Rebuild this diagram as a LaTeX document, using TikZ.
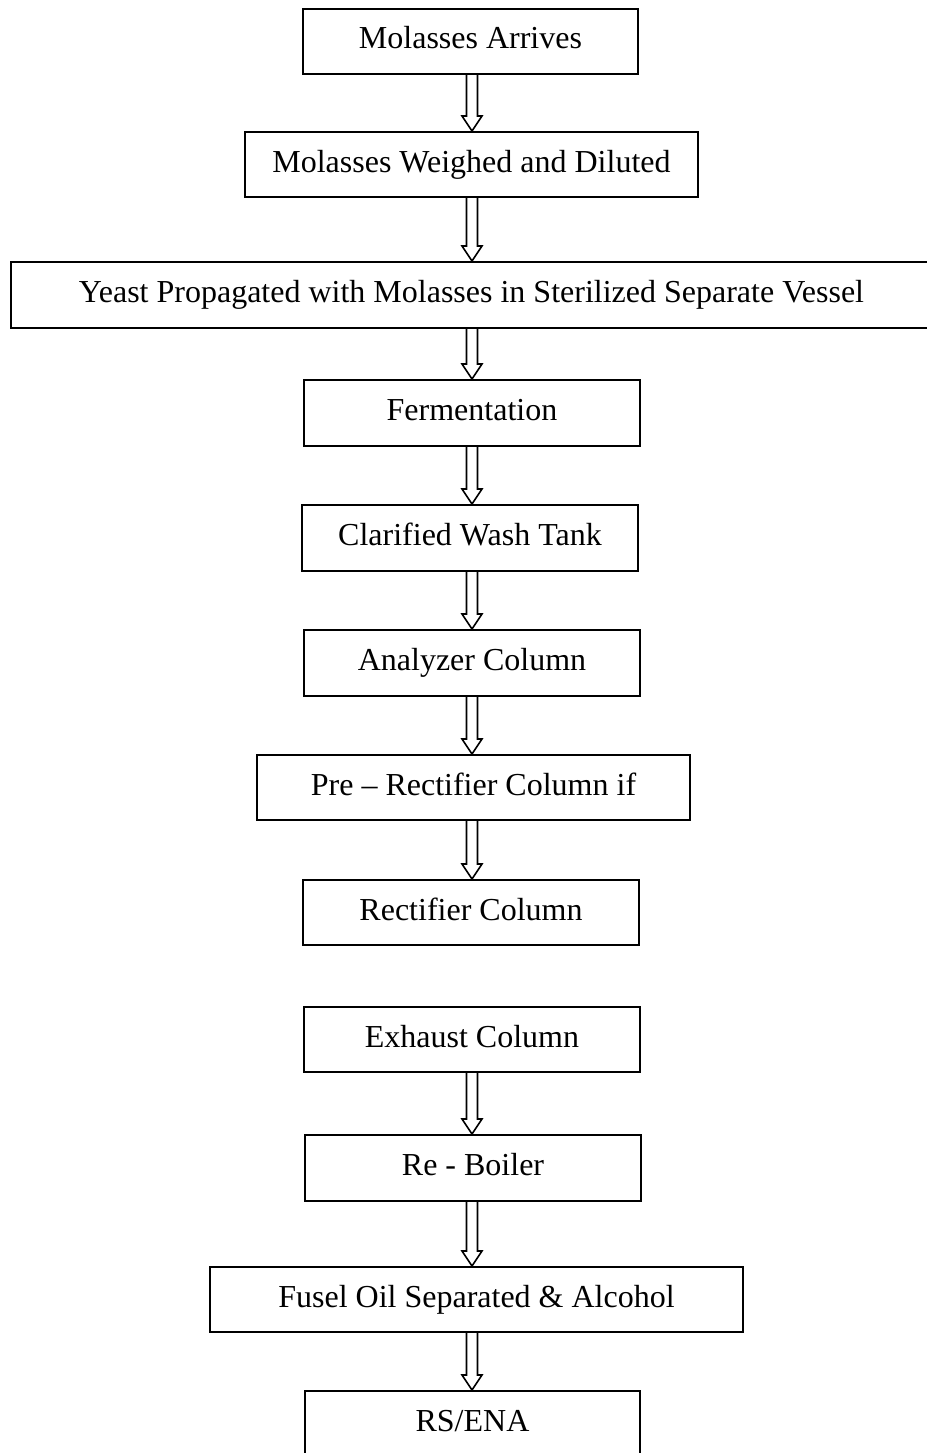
\documentclass[tikz,border=0pt]{standalone}
\usepackage{fontspec}
\setmainfont{Liberation Serif}
\usetikzlibrary{calc}

% hollow block arrow from the bottom of #1 to the top of #2
\newcommand{\flowarrow}[2]{%
  \draw [line width=0.8pt]
    ($(#1.south -| axis)+(-5.5,0)$) -- ($(#2.north -| axis)+(-5.5,-15)$)
    -- ++(-4.5,0) -- (#2.north -| axis) -- ++(10,-15) -- ++(-4.5,0)
    -- ($(#1.south -| axis)+(5.5,0)$);}

\begin{document}
\begin{tikzpicture}[
  x=0.5pt, y=-0.5pt,
  stage/.style={draw, line width=1pt, inner sep=0pt, minimum height=32.5pt,
    text height=11pt, text depth=3.5pt, font=\fontsize{16}{19}\selectfont},
]
\useasboundingbox (0,0) rectangle (927,1453);
\coordinate (axis) at (472,0);

% process stages
\node [stage, minimum width=167.5pt] (arrive) at (470.5,41) {Molasses Arrives};
\node [stage, minimum width=226.5pt] (weigh) at (471.5,164.5) {Molasses Weighed and Diluted};
\node [stage, minimum width=460.5pt, minimum height=33pt] (yeast) at (471.5,295) {Yeast Propagated with Molasses in Sterilized Separate Vessel};
\node [stage, minimum width=168pt, minimum height=33pt] (ferment) at (472,413) {Fermentation};
\node [stage, minimum width=168pt, minimum height=33pt] (wash) at (470,538) {Clarified Wash Tank};
\node [stage, minimum width=168pt, minimum height=33pt] (analyzer) at (472,663) {Analyzer Column};
\node [stage, minimum width=216.5pt] (prerect) at (473.5,787.5) {Pre – Rectifier Column if};
\node [stage, minimum width=168pt] (rect) at (471,912.5) {Rectifier Column};

\node [stage, minimum width=168pt] (exhaust) at (472,1039.5) {Exhaust Column};
\node [stage, minimum width=168pt, minimum height=33pt] (reboil) at (473,1168) {Re - Boiler};
\node [stage, minimum width=266.5pt] (fusel) at (476.5,1299.5) {Fusel Oil Separated \& Alcohol};
\node [stage, minimum width=167.5pt, minimum height=33pt] (rsena) at (472.5,1424) {RS/ENA};

% arrows
\foreach \a/\b in {arrive/weigh, weigh/yeast, yeast/ferment, ferment/wash,
    wash/analyzer, analyzer/prerect, prerect/rect,
    exhaust/reboil, reboil/fusel, fusel/rsena}
  \flowarrow{\a}{\b};
\end{tikzpicture}
\end{document}
